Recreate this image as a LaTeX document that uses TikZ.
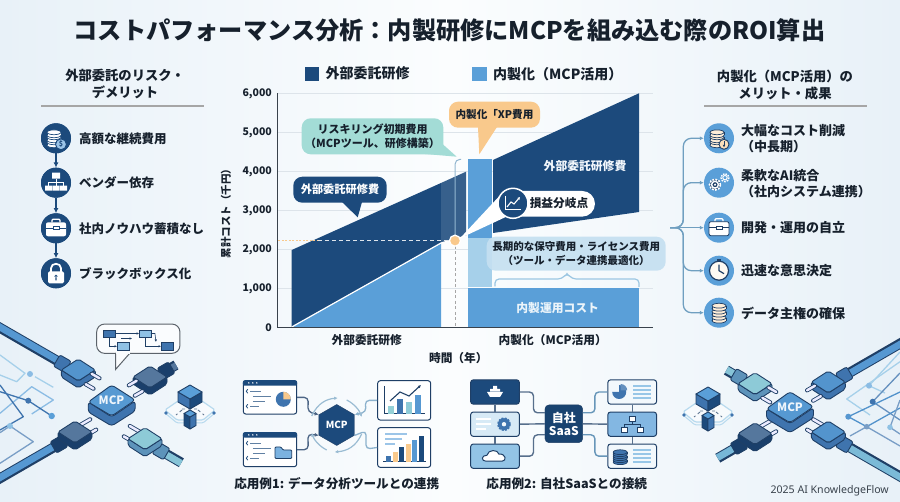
\documentclass[tikz,border=0pt]{standalone}
\usepackage{fontspec}
\setmainfont{Noto Sans CJK JP}
\newfontfamily\latfont{Noto Sans}
\usetikzlibrary{arrows.meta,calc,shapes.geometric}
\definecolor{navy}{HTML}{1C4A7C}
\definecolor{deep}{HTML}{1A3F6B}
\definecolor{sky}{HTML}{5A9FD8}
\definecolor{midb}{HTML}{3F74AE}
\definecolor{pale}{HTML}{A6D0EA}
\definecolor{teal}{HTML}{A3DCD6}
\definecolor{orng}{HTML}{F9C98C}
\definecolor{ink}{HTML}{16202C}
\definecolor{edgec}{HTML}{1F3F66}
\definecolor{wire}{HTML}{6F9FC0}
\definecolor{gridc}{HTML}{DDE4EA}
\definecolor{bga}{HTML}{E8F1F8}
\definecolor{bgb}{HTML}{FBFDFE}
\newcommand\fsz[2]{\fontsize{#1}{#2}\selectfont}
\tikzset{
 lab/.style={inner sep=0pt,text=ink,font=\bfseries\fsz{#1}{#1}},
 lab/.default=12.5,
 multi/.style={inner sep=0pt,text=ink,align=center,font=\bfseries\fsz{#1}{17}},
 risk/.style={circle,fill=navy,minimum size=30pt,inner sep=0pt},
 gain/.style={circle,fill=sky,minimum size=30pt,inner sep=0pt},
 tickl/.style={inner sep=0pt,anchor=east,text=ink,font=\bfseries\fsz{10.5}{11}},
 callout/.style={rounded corners=9pt,inner sep=0pt,align=center},
 win/.style={draw=edgec,line width=1pt,rounded corners=2.5pt,fill=white,inner sep=0pt},
 cube/.style={draw=edgec,line width=.9pt,line join=round},
}
% stacked disk
\newcommand\disk[5]{%
 \draw[draw=#4,fill=#3,line width=.7pt] (#1,#2+#5) ellipse (7 and 2.4);
 \fill[#3] (#1-7,#2) rectangle (#1+7,#2+#5);
 \draw[draw=#4,line width=.7pt] (#1-7,#2)--(#1-7,#2+#5) (#1+7,#2)--(#1+7,#2+#5);
 \draw[draw=#4,fill=#3,line width=.7pt] (#1,#2) ellipse (7 and 2.4);}
\newcommand\prongs[4]{%
 \begin{scope}[shift={(#1,#2)},rotate=#3]
  \foreach \q in {-6,6}{
   \draw[edgec,line width=4.2pt,line cap=round] (#4,\q)--(21,\q);
   \draw[white!92!blue,line width=2.5pt,line cap=round] (#4,\q)--(21,\q);}
 \end{scope}}
% plug: x y rot body side cable length
\newcommand\plug[7]{%
 \begin{scope}[shift={(#1,#2)},rotate=#3]
  \draw[edgec,line width=10pt] (-15,0)--(-#7,0);
  \draw[#6,line width=6.8pt] (-15,-.6)--(-#7,-.6);
  \draw[cube,fill=#5,rounded corners=2pt] (-25,-6.5) rectangle (-12,6.5);
 \end{scope}
 \ifnum#3>0 \prongs{#1}{#2}{#3}{5}\fi
 \draw[cube,fill=#5,rounded corners=2pt] (#1-17,#2-3)--(#1-17,#2+4)--(#1,#2+15)--(#1+17,#2+4)--(#1+17,#2-3)--(#1,#2+8)--cycle;
 \draw[cube,fill=#4,rounded corners=2pt] (#1,#2-14)--(#1+17,#2-3)--(#1,#2+8)--(#1-17,#2-3)--cycle;
 \ifnum#3<0 \prongs{#1}{#2}{#3}{12}\fi}
% iso block: cx, top y, half width, half height, depth, top colour, left, right
\newcommand\block[8]{%
 \draw[cube,fill=#7] (#1-#3,#2+#4)--(#1,#2+2*#4)--(#1,#2+2*#4+#5)--(#1-#3,#2+#4+#5)--cycle;
 \draw[cube,fill=#8] (#1+#3,#2+#4)--(#1,#2+2*#4)--(#1,#2+2*#4+#5)--(#1+#3,#2+#4+#5)--cycle;
 \draw[cube,fill=#6] (#1,#2)--(#1+#3,#2+#4)--(#1,#2+2*#4)--(#1-#3,#2+#4)--cycle;}
\newcommand\mcpbox[2]{%
 \draw[cube,fill=midb,rounded corners=3pt] (#1-23.5,#2-3)--(#1,#2+12)--(#1+23.5,#2-4)--(#1+23.5,#2+6)--(#1,#2+21)--(#1-23.5,#2+7)--cycle;
 \draw[cube,fill=sky!85!midb,rounded corners=3pt] (#1,#2-20)--(#1+23.5,#2-5)--(#1,#2+11)--(#1-23.5,#2-3)--cycle;}
\newcommand\isonet[2]{%
 \begin{scope}[shift={(#1,#2)}]
 \draw[pale!80!white,line width=1.2pt,fill=white,fill opacity=.5,rounded corners=1.5pt] (-25,0)--(-12,-9)--(12,-9)--(25,0)--(13,10)--(-13,10)--cycle;
 \draw[pale!80!white,line width=1pt,rounded corners=1.5pt] (-25,3)--(-13,13)--(13,13)--(25,3);
 \draw[edgec!70!white,line width=.9pt,dashed] (-8,0)--(-14,5)(8,0)--(14,5)(-8,-1)--(8,-1);
 \fill[midb] (-24,3) circle (1.8) (24,3) circle (1.8);
 \block{0}{-25}{12}{7}{10}{sky}{midb}{navy}
 \block{0}{0}{6}{3.5}{12}{sky}{navy}{midb}
 \end{scope}}
\begin{document}
\begin{tikzpicture}[x=1pt,y=-1pt]
\useasboundingbox (0,0) rectangle (900,502);
\shade[left color=bga,right color=bga,middle color=bgb] (0,0) rectangle (900,502);
\begin{scope}
\clip (0,0) rectangle (900,502);

% ---- title
\node[lab=24.2] (title) at (449.5,30.5) {コストパフォーマンス分析：内製研修にMCPを組み込む際のROI算出};

% ---- left panel
\node[multi=13.3] (lhead) at (125,84.5) {外部委託のリスク・\\デメリット};
\draw[draw=gray!70,line width=1.3pt] (41,106)--(204,106);
\node[risk] (r1) at (56,138.3) {};
\node[risk] (r2) at (56,182.7) {};
\node[risk] (r3) at (56,228.3) {};
\node[risk] (r4) at (56,273.3) {};
\foreach \a/\b in {r1/r2,r2/r3,r3/r4}
 \draw[navy,line width=1.3pt,-{Latex[length=5pt,width=5pt]}] (\a)--(\b);
\foreach \a in {r1,r2,r3,r4} \node[risk] at (\a) {};
\node[lab,anchor=west] (rt1) at (79,138.3) {高額な継続費用};
\node[lab,anchor=west] (rt2) at (79,183) {ベンダー依存};
\node[lab,anchor=west] (rt3) at (79,228.5) {社内ノウハウ蓄積なし};
\node[lab,anchor=west] (rt4) at (79,273.5) {ブラックボックス化};
% icons left
\begin{scope}[shift={(56,138.3)}]
 \disk{-2}{4}{white}{navy}{3}\disk{-2}{-1}{white}{navy}{3}\disk{-2}{-6}{white}{navy}{3}
 \draw[navy,fill=sky!60!white,line width=1pt] (5,6) circle (5.5);
 \node[inner sep=0pt,text=navy,font=\bfseries\fsz{7}{7}] at (5,6) {\$};
\end{scope}
\begin{scope}[shift={(56,182.7)}]
 \fill[white] (-4,-10) rectangle (4,-4) (-11,3) rectangle (-4,8) (-3.5,3) rectangle (3.5,8) (4,3) rectangle (11,8);
 \draw[white,line width=1pt] (0,-4)--(0,3) (-7.5,3)--(-7.5,-.5)--(7.5,-.5)--(7.5,3);
\end{scope}
\begin{scope}[shift={(56,228.3)}]
 \draw[white,line width=1.3pt,rounded corners=1pt] (-4,-6)--(-4,-9)--(4,-9)--(4,-6);
 \fill[white,rounded corners=2pt] (-10,-6) rectangle (10,8);
 \draw[navy,line width=.8pt] (-10,0)--(-3,0) (3,0)--(10,0) (-3,-1.5) rectangle (3,1.5);
\end{scope}
\begin{scope}[shift={(56,273.3)}]
 \draw[white,line width=1.8pt] (-5,-1)--(-5,-5) .. controls (-5,-11) and (5,-11) .. (5,-5)--(5,-1);
 \fill[white,rounded corners=1.5pt] (-8,-2) rectangle (8,10);
 \fill[navy] (0,3) circle (1.6) (-.7,3) rectangle (.7,7);
\end{scope}

% ---- right panel
\node[multi=13.3] (ghead1) at (785,84.5) {内製化（MCP活用）の\\メリット・成果};
\draw[draw=gray!70,line width=1.3pt] (704,106)--(867,106);
\node[gain] (g1) at (719,138.3) {};
\node[gain] (g2) at (719,182.7) {};
\node[gain] (g3) at (719,227.7) {};
\node[gain] (g4) at (719,270.7) {};
\node[gain] (g5) at (719,312.7) {};
\coordinate (root) at (670,227.7);
\tikzset{branch/.style={wire,line width=1.3pt,rounded corners=8pt,-{Latex[length=4pt,width=4pt]}}}
\draw[branch] (root)--(683.3,227.7)--(683.3,138.3)--(g1.west);
\draw[branch] (root)--(683.3,227.7)--(683.3,182.7)--(g2.west);
\draw[branch] (root)--(g3.west);
\draw[branch] (root)--(683.3,227.7)--(683.3,270.7)--(g4.west);
\draw[branch] (root)--(683.3,227.7)--(683.3,312.7)--(g5.west);
\node[multi=13,anchor=west,align=left,font=\bfseries\fsz{13}{16}] (gt1) at (741,139) {大幅なコスト削減\\（中長期）};
\node[multi=13,anchor=west,align=left,font=\bfseries\fsz{13}{16}] (gt2) at (741,184) {柔軟なAI統合\\（社内システム連携）};
\node[lab=13,anchor=west] (gt3) at (741,227.7) {開発・運用の自立};
\node[lab=13,anchor=west] (gt4) at (741,271) {迅速な意思決定};
\node[lab=13,anchor=west] (gt5) at (741,313) {データ主権の確保};
\colorlet{gi}{edgec}
\begin{scope}[shift={(719,138.3)}]
 \disk{-2}{4}{orng!35!white}{gi}{3}\disk{-2}{-1}{orng!35!white}{gi}{3}\disk{-2}{-6}{orng!35!white}{gi}{3}
 \draw[gi,fill=orng!60!white,line width=.9pt] (5,6) circle (5);
 \draw[gi,line width=.9pt,-{Latex[length=2.5pt,width=3pt]}] (5,3)--(5,9);
\end{scope}
\begin{scope}[shift={(719,182.7)}]
 \draw[white,fill=gi,line width=1.6pt,dash pattern=on 2pt off 1.2pt] (-4,2) circle (5.5);
 \draw[white,line width=1.4pt] (-4,2) circle (3.4);
 \fill[white] (-4,2) circle (1.2);
 \draw[white,line width=1.4pt,dash pattern=on 1.6pt off 1.1pt] (6,-5) circle (4);
 \draw[white,line width=1pt] (6,-5) circle (2.2);
\end{scope}
\begin{scope}[shift={(719,227.7)}]
 \draw[white,line width=1.3pt,rounded corners=1pt] (-4,-6)--(-4,-9)--(4,-9)--(4,-6);
 \draw[gi,fill=white,rounded corners=2pt,line width=.8pt] (-10,-6) rectangle (10,8);
 \draw[gi,line width=.8pt] (-10,0)--(-3,0) (3,0)--(10,0) (-3,-1.5) rectangle (3,1.5);
\end{scope}
\begin{scope}[shift={(719,270.7)}]
 \fill[gi] (-2,-12) rectangle (2,-10);
 \draw[gi,fill=white!90!orng,line width=1.2pt] (0,0) circle (9.5);
 \draw[gi,line width=1.2pt] (0,-6)--(0,0)--(5,3);
\end{scope}
\begin{scope}[shift={(719,312.7)}]
 \disk{0}{5}{orng!35!white}{gi}{3}\disk{0}{-1}{orng!35!white}{gi}{3}\disk{0}{-7}{orng!35!white}{gi}{3}
\end{scope}

% ---- legend
\fill[navy] (305,66.7) rectangle (319.3,80.7);
\node[lab=14,anchor=west] (lg1) at (325.5,73.7) {外部委託研修};
\fill[sky] (472.3,66.7) rectangle (486.7,80.7);
\node[lab=14,anchor=west] (lg2) at (493,73.7) {内製化（MCP活用）};

% ---- chart
\foreach \yy in {93.5,132.5,171.5,210.5,249.5,288.5} \draw[gridc,line width=1pt] (277.7,\yy)--(653,\yy);
\node[tickl] at (272,93.5) {6,000};
\node[tickl] at (272,132.5) {5,000};
\node[tickl] at (272,171.5) {4,000};
\node[tickl] at (272,210.5) {3,000};
\node[tickl] at (272,249.5) {2,000};
\node[tickl] at (272,288.5) {1,000};
\node[tickl] at (272,327.3) {0};
\node[inner sep=0pt,text=ink,rotate=90,font=\bfseries\fsz{10.5}{11}] (ylab) at (226,211) {累計コスト（千円）};
% areas
\fill[navy] (291.7,250)--(441,183)--(441,243)--(291.7,327)--cycle;
\fill[navy!88!white] (441,183)--(466,171.7)--(466,236)--(441,243)--cycle;
\fill[sky] (291.7,327.3)--(441,243.5)--(441,327.3)--cycle;
\draw[white,line width=1.2pt] (291.7,327)--(441,243)--(466,236);
\fill[navy] (493,160)--(639,93.3)--(639,212)--(493,233)--cycle;
\fill[sky] (467.7,159.3) rectangle (492.3,238);
\fill[pale] (467.7,238) rectangle (492.3,286.7);
\fill[sky] (467.7,288.5) rectangle (639,327.3);
% axes
\draw[ink!85!white,line width=1pt] (277.7,93.5)--(277.7,327.3)--(653,327.3);
% guide lines
\draw[orng,line width=.9pt,dash pattern=on 2pt off 1.5pt] (278.3,240.7)--(318,240.7);
\draw[white!85!navy,line width=.9pt,dash pattern=on 4pt off 3pt] (318,240.7)--(451,240.7);
\draw[wire!75!white,line width=1pt,rounded corners=5pt] (461,159.3)--(455,159.3)--(455,240);
\draw[gray!70,line width=.9pt,dash pattern=on 3pt off 2.5pt] (455,246)--(455,327);
% chart texts
\node[inner sep=0pt,text=white!92!sky,font=\bfseries\fsz{11.8}{12}] (rt) at (585,166) {外部委託研修費};
\node[inner sep=0pt,text=white!88!sky,font=\bfseries\fsz{11.8}{12}] (bt) at (557.7,308.3) {内製運用コスト};
% callouts
\node[callout,fill=navy,minimum width=93.4pt,minimum height=26pt,text=white,font=\bfseries\fsz{11.2}{14}] (c3) at (340,189.7) {外部委託研修費};
\fill[navy] (342,202)--(357.7,217.3)--(362,202)--cycle;
\node[callout,fill=teal,minimum width=141.6pt,minimum height=36pt,text=ink,font=\bfseries\fsz{11}{14}] (c1) at (372.5,136.3) {リスキリング初期費用\\（MCPツール、研修構築）};
\fill[teal] (425,154)--(456.7,156.7)--(438,140)--cycle;
\node[callout,fill=orng,minimum width=91pt,minimum height=26pt,text=ink,font=\bfseries\fsz{10.6}{14}] (c2) at (494.5,114.7) {内製化「XP費用};
\fill[orng] (478,127)--(479.3,154.3)--(497,127)--cycle;
\node[callout,fill=pale!65!white,fill opacity=.92,text opacity=1,minimum width=179pt,minimum height=34pt,text=ink,font=\bfseries\fsz{10.5}{13.5}] (c4) at (576.2,253.7) {長期的な保守費用・ライセンス費用\\（ツール・データ連携最適化）};
% brace
\draw[pale!80!wire,line width=1.2pt,rounded corners=4pt] (495,286.5)--(495,279)--(562,279)--(567,273)--(572,279)--(639,279)--(639,287);
% break even
\node[circle,fill=orng,draw=white,line width=1.3pt,minimum size=11pt,inner sep=0pt] (be) at (455,240.7) {};
\node[rounded corners=12.8pt,fill=white,minimum width=88.3pt,minimum height=25.7pt,inner sep=0pt] (bp) at (550.8,203.8) {};
\fill[white] (460,238.3)--(505,190)--(510,215)--cycle;
\node[lab=11.7] (bl) at (559,203.3) {損益分岐点};
\node[circle,fill=navy,draw=white,line width=1.5pt,minimum size=30pt,inner sep=0pt] (bc) at (513,203.3) {};
\draw[white,line width=.9pt] (505,196.5)--(505,209.5)--(521,209.5);
\draw[white,line width=1.1pt,-{Latex[length=2.5pt,width=3pt]}] (507,207)--(511,202)--(514,204)--(520,197);
% axis labels
\node[lab=11.7] (x1) at (366.7,340) {外部委託研修};
\node[lab=11.7] (x2) at (552.7,340) {内製化（MCP活用）};
\node[lab=11.7] (x3) at (458.3,358) {時間（年）};

% ---- circuit lines, left
\tikzset{trace/.style={line width=1.3pt,line join=round}}
\draw[trace,color=pale] (0,355)--(25,373.3)--(16.7,381.7)--(0,375) (35,376.7)--(53.3,387.3);
\draw[trace,color=sky!70!white] (0,413.3)--(31.7,386.7)--(53.3,400)--(31.7,414);
\draw[trace,color=midb] (0,391.7)--(28.3,400.7)--(51.7,416) (0,385)--(23.3,416.7)--(0,430);
\draw[trace,color=midb!70!white] (0,432.7)--(10,426)--(33.3,441.7)--(0,463.3);
\fill[sky!70!white] (30,374) circle (3);
\fill[midb] (28.3,400.7) circle (3);
\fill[sky] (51.7,416) circle (3.2);
\fill[pale!70!sky] (10,426) circle (3);
% ---- left plugs
\plug{78.3}{373}{-30}{sky!75!midb}{midb}{sky!85!midb}{95}
\plug{150}{380}{-150}{navy!75!white}{deep}{navy!75!white}{30}
\plug{75}{435}{30}{navy!75!white}{deep}{sky!85!midb}{95}
\plug{145}{441.7}{150}{teal!70!sky}{midb!70!teal}{teal!60!sky}{42}
\mcpbox{111.7}{405}
\node[inner sep=0pt,text=white!90!sky,font=\bfseries\fsz{11.5}{12}] (mcpa) at (111.5,400.5) {MCP};
\isonet{190}{410}
% bubble
\node[draw=ink!70!white,line width=1pt,fill=white!80!bga,rounded corners=8pt,minimum width=83.3pt,minimum height=29.3pt,inner sep=0pt] (bub) at (138.3,338.7) {};
\draw[draw=ink!70!white,line width=1pt,fill=white!80!bga] (115.7,353)--(115.7,369.3)--(130,353);
\fill[white!80!bga] (116.3,352)--(116.3,354)--(129.5,354)--(129.5,352)--cycle;
\node[draw=edgec,fill=midb,inner sep=0pt,minimum width=11.5pt,minimum height=7.3pt] (f1) at (109,333.5) {};
\node[draw=edgec,fill=pale!70!sky,inner sep=0pt,minimum width=11.5pt,minimum height=7.3pt] (f2) at (145,333.5) {};
\node[draw=edgec,fill=pale!70!sky,inner sep=0pt,minimum width=11.5pt,minimum height=7.3pt] (f3) at (123,346.3) {};
\node[draw=edgec,fill=midb,inner sep=0pt,minimum width=11.5pt,minimum height=7.3pt] (f4) at (167,346.3) {};
\tikzset{flow/.style={edgec,line width=.6pt,-{Latex[length=2.5pt,width=2.5pt]}}}
\draw[flow] (f1.east)--(f2.west);
\draw[flow] (f1.south) |- (f3.west);
\draw[flow] (f2.south) |- (f4.west);
\draw[flow] (121,338.5)--(132,338.5);
\draw[flow] (f2.east)-- ++(4,0)--(156,342);

% ---- circuit lines, right
\draw[trace,color=pale] (900,361.7)--(846.7,399)--(870,415);
\draw[trace,color=pale] (900,352)--(869,385.7)--(885,393);
\draw[trace,color=midb!80!white] (900,373)--(872.7,401.7)--(900,420);
\draw[trace,color=sky!70!midb] (900,392)--(848.3,416.7)--(866.7,426.7)--(900,408);
\draw[trace,color=midb!70!white] (900,446)--(866.7,426.7)--(850,436) (900,400)--(890,427.3)--(900,434);
\fill[sky!70!white] (869,385.7) circle (3);
\fill[midb] (872.7,401.7) circle (3);
\fill[sky!80!midb] (848.3,416.7) circle (3);
\fill[midb!70!white] (866.7,426.7) circle (2.8);
\fill[pale!70!sky] (890,427.3) circle (2.8);
% ---- right plugs
\plug{755}{386.7}{-30}{teal!70!sky}{midb!70!teal}{teal!60!sky}{33}
\plug{828.3}{385}{-150}{sky!75!midb}{midb}{sky!85!midb}{90}
\plug{755}{436.7}{30}{navy!75!white}{deep}{sky!60!teal}{43}
\plug{828.3}{435}{150}{sky!75!midb}{midb}{sky!55!teal}{90}
\mcpbox{790}{411.7}
\node[inner sep=0pt,text=white!90!sky,font=\bfseries\fsz{11.5}{12}] (mcpb) at (790,407) {MCP};
\isonet{708}{412}

% ---- example 1
\node[win,minimum width=53.4pt,minimum height=33.3pt] (w1) at (270,397.4) {};
\node[win,minimum width=53.4pt,minimum height=34pt] (w2) at (270,449.7) {};
\node[win,minimum width=53pt,minimum height=39.3pt] (c1b) at (404.2,400.4) {};
\node[win,minimum width=53pt,minimum height=39.6pt] (c2b) at (404.2,447.5) {};
\node[regular polygon,regular polygon sides=6,shape border rotate=90,fill=navy,draw=edgec,minimum size=41pt,inner sep=0pt,text=white,font=\bfseries\fsz{9.8}{10}] (hex) at (336.7,425) {MCP};
\foreach \n in {w1,w2}{
 \fill[navy,rounded corners=2pt] (\n.north west) rectangle ($(\n.north east)+(0,5.5)$);
 \foreach \k in {6,10,14} \fill[white] ($(\n.north west)+(\k,2.7)$) circle (.8);
 \draw[navy!70!white,line width=1.2pt] ($(\n.north west)+(7,11)$)--($(\n.north west)+(18,11)$) ($(\n.north west)+(10,16)$)--($(\n.north west)+(28,16)$) ($(\n.north west)+(10,21)$)--($(\n.north west)+(22,21)$) ($(\n.north west)+(7,26)$)--($(\n.north west)+(16,26)$);
 \draw[navy,line width=.8pt] ($(\n.north west)+(5,9)$)--($(\n.north west)+(3.5,11)$)--($(\n.north west)+(5,13)$) ($(\n.north west)+(5,24)$)--($(\n.north west)+(3.5,26)$)--($(\n.north west)+(5,28)$);
}
\fill[midb] (283.3,399.3) circle (7.5);
\fill[orng] (283.3,399.3)--(283.3,391.8) arc[start angle=-90,end angle=0,radius=7.5]--cycle;
\draw[edgec,fill=sky!80!white,line width=.8pt,rounded corners=1pt] (275,458.5)--(275,447)--(281,447)--(283,450)--(291.7,450)--(291.7,458.5)--cycle;
% chart icon 1
\draw[edgec,line width=1pt] (384,386)--(384,414)--(425,414);
\fill[teal!80!sky] (388,406) rectangle (394,414);
\fill[midb] (397,399) rectangle (403,414);
\fill[teal!70!sky] (406,402) rectangle (412,414);
\fill[sky!85!midb] (415,395) rectangle (421,414);
\draw[edgec,line width=1.1pt,-{Latex[length=3pt,width=3pt]}] (390,401)--(400,392)--(409,396)--(421,385);
% chart icon 2
\draw[sky!60!white,line width=1.2pt] (385,434)--(407,434) (385,439)--(402,439) (385,444)--(395,444);
\draw[edgec,line width=1pt] (383,462)--(426,462);
\fill[midb] (386,456) rectangle (391,462);
\fill[orng] (392.5,452) rectangle (397.5,462);
\fill[navy] (399,447) rectangle (404,462);
\fill[orng] (405.5,444) rectangle (410.5,462);
\fill[sky!85!midb] (412,440) rectangle (417,462);
\fill[navy] (418.5,436) rectangle (423.5,462);
% ex1 connectors
\tikzset{darkc/.style={edgec!80!white,line width=1.3pt,rounded corners=4pt,-{Latex[length=4pt,width=4pt]}},
 lightc/.style={wire!80!white,line width=1.3pt,rounded corners=4pt},
 ringar/.style={wire!70!white,line width=1.2pt,-{Latex[length=3.5pt,width=3.5pt]}}}
\draw[darkc] (w1.east)-- ++(11,0)--(308,412)--(hex.150);
\draw[darkc] (w2.east)-- ++(11,0)--(308,434)--(hex.210);
\draw[lightc,-{Latex[length=4pt,width=4pt]}] (c1b.west)-- ++(-12,0)--(366,412)--(hex.30);
\draw[lightc] (hex.-30)--(366,431)--(366,449)--(c2b.west);
\draw[ringar] ($(hex)+(-25,-9)$) .. controls ($(hex)+(-19,-22)$) and ($(hex)+(-10,-26)$) .. ($(hex)+(1,-27)$);
\draw[ringar] ($(hex)+(10,-25)$) .. controls ($(hex)+(18,-21)$) and ($(hex)+(23,-14)$) .. ($(hex)+(25,-8)$);
\draw[ringar] ($(hex)+(25,9)$) .. controls ($(hex)+(19,22)$) and ($(hex)+(10,26)$) .. ($(hex)+(-2,27)$);
\draw[ringar] ($(hex)+(-10,25)$) .. controls ($(hex)+(-18,21)$) and ($(hex)+(-23,14)$) .. ($(hex)+(-25,8)$);
\node[lab=12.6] (cap1) at (336.7,484) {応用例1: データ分析ツールとの連携};

% ---- example 2
\tikzset{sbox/.style={draw=edgec,line width=1pt,rounded corners=2.5pt,inner sep=0pt,minimum width=48.6pt,minimum height=24.2pt}}
\node[sbox,fill=navy] (l1) at (495,392) {};
\node[sbox,fill=pale!45!white] (l2) at (495,424.2) {};
\node[sbox,fill=pale!75!sky] (l3) at (495,456.2) {};
\node[sbox,fill=white!85!pale] (s1) at (632.2,392) {};
\node[sbox,fill=sky!75!white] (s2) at (632.2,424.2) {};
\node[sbox,fill=white!85!pale] (s3) at (632.2,456.2) {};
\node[draw=edgec,fill=navy!90!black,rounded corners=4pt,minimum width=37.7pt,minimum height=37.7pt,inner sep=0pt,align=center,text=white,font=\bfseries\fsz{12}{13.3}] (saas) at (563.8,423.8) {自社\\SaaS};
\tikzset{dc/.style={edgec!75!white,line width=1.4pt,rounded corners=4pt},
 mc/.style={wire!90!navy,line width=1.4pt,rounded corners=4pt}}
\draw[dc] (l1)--(l2); \draw[dc] (l2)--(l3);
\draw[dc] (s1)--(s2); \draw[dc] (s2)--(s3);
\draw[dc] (l1.east)-- ++(13.7,0) |- ([yshift=11pt]saas.west);
\draw[dc] (l2.east)--(saas.west);
\draw[dc] (l3.east)-- ++(13.7,0) |- ([yshift=-11pt]saas.west);
\draw[mc] (s1.west)-- ++(-12.5,0) |- ([yshift=11pt]saas.east);
\draw[dc] (s2.west)--(saas.east);
\draw[mc] (s3.west)-- ++(-12.5,0) |- ([yshift=-11pt]saas.east);
% box icons
\begin{scope}[shift={(l1)}]
 \fill[white] (-8,0)--(8,0)--(5,5)--(-5,5)--cycle (-5,-3) rectangle (5,-.5) (-2,-6) rectangle (2,-3);
\end{scope}
\begin{scope}[shift={(l2)}]
 \draw[white,line width=1.4pt] (-19,-5)--(-4,-5) (-19,0)--(-4,0) (-19,5)--(-9,5);
 \draw[midb,fill=midb,line width=1.6pt,dash pattern=on 2pt off 1.2pt] (9,0) circle (6);
 \fill[midb] (9,0) circle (5); \fill[white!85!pale] (9,0) circle (2.2);
\end{scope}
\begin{scope}[shift={(l3)}]
 \draw[edgec,fill=white,line width=1pt] (-9,5) .. controls (-14,5) and (-14,-1) .. (-8,-1) .. controls (-7,-7) and (3,-7) .. (4,-2) .. controls (11,-3) and (12,5) .. (7,5)--cycle;
\end{scope}
\begin{scope}[shift={(s1)}]
 \fill[midb] (-13,0)--(-13,-7) arc[start angle=-90,end angle=180,radius=7]--cycle;
 \fill[midb!80!white] (-11.5,-1.5)--(-11.5,-8) arc[start angle=-90,end angle=0,radius=6.5]--cycle;
 \draw[pale!80!sky,line width=1.4pt] (1,-6)--(19,-6) (1,-2)--(19,-2) (1,2)--(19,2) (1,6)--(19,6);
\end{scope}
\begin{scope}[shift={(s2)}]
 \draw[edgec,fill=white,line width=.8pt] (-3,-8) rectangle (3,-3) (-11,3) rectangle (-5,8) (5,3) rectangle (11,8);
 \draw[edgec,line width=.8pt] (0,-3)--(0,.5) (-8,3)--(-8,.5)--(8,.5)--(8,3);
\end{scope}
\begin{scope}[shift={(s3)}]
 \disk{-12}{4}{midb}{edgec}{2}\disk{-12}{0}{midb}{edgec}{2}\disk{-12}{-4}{midb}{edgec}{2}
 \draw[pale!80!sky,line width=1.4pt] (1,-6)--(19,-6) (1,-2)--(19,-2) (1,2)--(19,2) (1,6)--(19,6);
\end{scope}
\node[lab=12.6] (cap2) at (566.7,484) {応用例2: 自社SaaSとの接続};

% ---- footer
\node[inner sep=0pt,anchor=east,text=ink!85!white,font=\latfont\fsz{10.6}{12}] (foot) at (889,490.7) {2025 AI KnowledgeFlow};
\end{scope}
\end{tikzpicture}
\end{document}
